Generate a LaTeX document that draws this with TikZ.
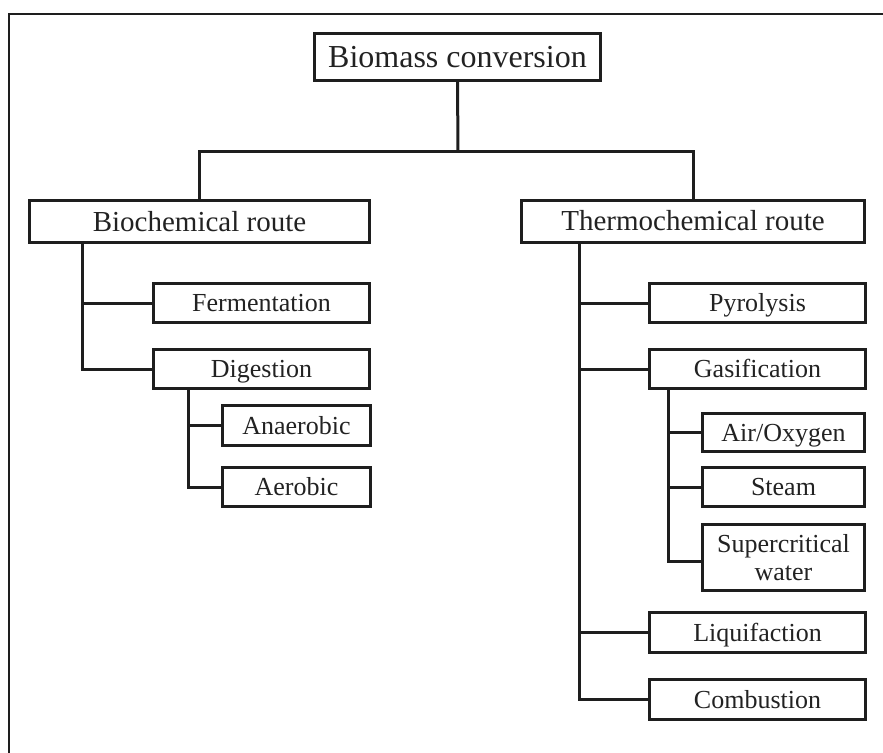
\documentclass[tikz,border=0pt]{standalone}
\usepackage{fontspec}
\setmainfont{Liberation Serif}
\definecolor{ink}{HTML}{1E1E1E}
\definecolor{txt}{HTML}{222222}
\tikzset{
  box/.style={draw=ink, line width=3pt, rectangle, inner sep=0pt, text=txt, align=center},
  bigtext/.style={font=\fontsize{32}{36}\selectfont, text height=21pt, text depth=0pt},
  midtext/.style={font=\fontsize{29}{33}\selectfont, text height=19pt, text depth=0pt},
  smalltext/.style={font=\fontsize{26}{28}\selectfont, text height=17pt, text depth=0pt},
  twoline/.style={font=\fontsize{26}{28}\selectfont},
  link/.style={draw=ink, line width=3pt},
}
\begin{document}
\begin{tikzpicture}[x=1pt, y=-1pt]
\useasboundingbox (0,0) rectangle (883,752);
\draw[ink, line width=1.6pt] (9,760) -- (9,14) -- (890,14);
% nodes
\node[box, bigtext, minimum width=286pt, minimum height=47pt] (top) at (457.5,57) {Biomass conversion};
\node[box, midtext, minimum width=340pt, minimum height=42pt] (bio) at (199.5,221.5) {Biochemical route};
\node[box, midtext, minimum width=343pt, minimum height=42pt] (thermo) at (693,221) {Thermochemical route};
\node[box, smalltext, minimum width=216pt, minimum height=39pt] (ferm) at (261.5,303) {Fermentation};
\node[box, smalltext, minimum width=216pt, minimum height=39pt] (dig) at (261.5,369) {Digestion};
\node[box, smalltext, minimum width=148pt, minimum height=40pt] (anaer) at (296.5,425.5) {Anaerobic};
\node[box, smalltext, minimum width=148pt, minimum height=39pt] (aer) at (296.5,487) {Aerobic};
\node[box, smalltext, minimum width=216pt, minimum height=39pt] (pyro) at (757.5,303) {Pyrolysis};
\node[box, smalltext, minimum width=216pt, minimum height=39pt] (gas) at (757.5,369) {Gasification};
\node[box, smalltext, minimum width=162pt, minimum height=38pt] (air) at (783.5,432.5) {Air/Oxygen};
\node[box, smalltext, minimum width=162pt, minimum height=39pt] (steam) at (783.5,487) {Steam};
\node[box, twoline, minimum width=162pt, minimum height=66pt] (sc) at (783.5,557.5) {Supercritical\\water};
\node[box, smalltext, minimum width=216pt, minimum height=40pt] (liq) at (757.5,632.5) {Liquifaction};
\node[box, smalltext, minimum width=216pt, minimum height=40pt] (comb) at (757.5,699.5) {Combustion};
% connectors
\coordinate (bar) at (458,151);
\draw[link] (top.south) -- (bar);
\draw[link] (bio.north) |- (bar) -| (thermo.north);
\draw[link] ([xshift=54pt]bio.south west) |- (ferm.west);
\draw[link] ([xshift=54pt]bio.south west) |- (dig.west);
\draw[link] ([xshift=36pt]dig.south west) |- (anaer.west);
\draw[link] ([xshift=36pt]dig.south west) |- (aer.west);
\draw[link] ([xshift=59pt]thermo.south west) |- (pyro.west);
\draw[link] ([xshift=59pt]thermo.south west) |- (gas.west);
\draw[link] ([xshift=59pt]thermo.south west) |- (liq.west);
\draw[link] ([xshift=59pt]thermo.south west) |- (comb.west);
\draw[link] ([xshift=20pt]gas.south west) |- (air.west);
\draw[link] ([xshift=20pt]gas.south west) |- (steam.west);
\draw[link] ([xshift=20pt]gas.south west) |- ([yshift=-4pt]sc.west);
\end{tikzpicture}
\end{document}
